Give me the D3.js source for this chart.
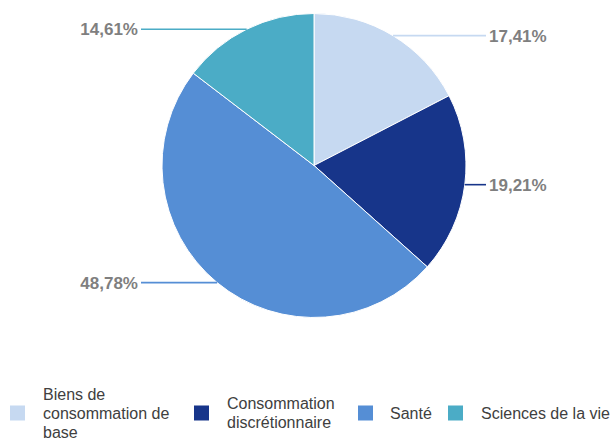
<!DOCTYPE html>
<html>
<head>
<meta charset="utf-8">
<script src="https://cdn.jsdelivr.net/npm/d3@7"></script>
<style>
  body { margin: 0; background: #fff; }
  svg { display: block; font-family: "Liberation Sans", Arial, sans-serif; }
</style>
</head>
<body>
<div id="chart"></div>
<script>
// data
var categories = ['Biens de consommation de base', 'Consommation discrétionnaire', 'Santé', 'Sciences de la vie'];
var values = [17.41, 19.21, 48.78, 14.61];
var labels = ['17,41%', '19,21%', '48,78%', '14,61%'];
var colors = ['#c6d9f1', '#17358a', '#558ed5', '#4bacc6'];
// legend text, already wrapped like the picture
var legendLines = [['Biens de', 'consommation de', 'base'], ['Consommation', 'discrétionnaire'], ['Santé'], ['Sciences de la vie']];

var width = 616, height = 439;
var cx = 314, cy = 165.5, radius = 152;

var svg = d3.select('#chart')
  .append('svg')
    .attr('width', width)
    .attr('height', height);

var g = svg.append('g')
    .attr('transform', 'translate(' + cx + ',' + cy + ')');

var pie = d3.pie().sort(null).value(function(d){ return d; });
var arcs = pie(values);

var arc = d3.arc().innerRadius(0).outerRadius(radius);

g.selectAll('path.slice')
  .data(arcs)
  .enter().append('path')
    .attr('class', 'slice')
    .attr('d', arc)
    .attr('fill', function(d, i){ return colors[i]; })
    .attr('stroke', '#fff')
    .attr('stroke-width', 1);

// leader lines go out horizontally from the middle of each slice's edge
var edgePoint = function(d){
  var a = (d.startAngle + d.endAngle) / 2;
  return [radius * Math.sin(a), -radius * Math.cos(a)];
};

var rightLineEnd = 486 - cx, leftLineEnd = 141 - cx;

g.selectAll('line.leader')
  .data(arcs)
  .enter().append('line')
    .attr('class', 'leader')
    .attr('x1', function(d){ return edgePoint(d)[0]; })
    .attr('y1', function(d){ return edgePoint(d)[1]; })
    .attr('x2', function(d){ return edgePoint(d)[0] > 0 ? rightLineEnd : leftLineEnd; })
    .attr('y2', function(d){ return edgePoint(d)[1]; })
    .attr('stroke', function(d, i){ return colors[i]; })
    .attr('stroke-width', 1.6);

g.selectAll('text.pct')
  .data(arcs)
  .enter().append('text')
    .attr('class', 'pct')
    .attr('x', function(d){ return edgePoint(d)[0] > 0 ? rightLineEnd + 3 : leftLineEnd - 3; })
    .attr('y', function(d){ return edgePoint(d)[1]; })
    .attr('dy', '0.35em')
    .attr('text-anchor', function(d){ return edgePoint(d)[0] > 0 ? 'start' : 'end'; })
    .style('font-size', '17px')
    .style('font-weight', 'bold')
    .style('fill', '#7f7f7f')
    .text(function(d, i){ return labels[i]; });

// legend
var legendX = [10, 194, 358, 448];
var legendTextX = [43, 227, 390, 481];
var legendMid = 413, lineH = 19;

var item = svg.selectAll('g.legend')
  .data(categories)
  .enter().append('g')
    .attr('class', 'legend');

item.append('rect')
    .attr('x', function(d, i){ return legendX[i]; })
    .attr('y', legendMid - 7.5)
    .attr('width', 15)
    .attr('height', 15)
    .attr('fill', function(d, i){ return colors[i]; });

item.append('text')
    .attr('y', function(d, i){ return legendMid + 5.5 - (legendLines[i].length - 1) * lineH / 2; })
    .style('font-size', '16px')
    .style('fill', '#404040')
    .each(function(d, i){
      var t = d3.select(this);
      legendLines[i].forEach(function(line, j){
        t.append('tspan')
          .attr('x', legendTextX[i])
          .attr('dy', j === 0 ? 0 : lineH)
          .text(line);
      });
    });
</script>
</body>
</html>
